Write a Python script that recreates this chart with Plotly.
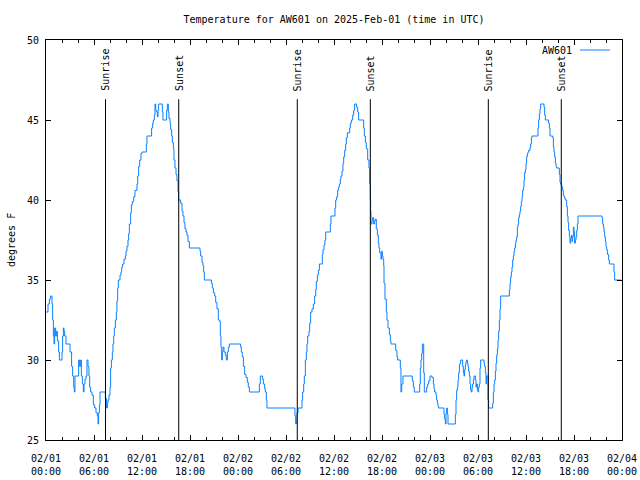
import plotly.graph_objects as go

# ---------------- data ----------------
series_name = "AW601"
title_text = "Temperature for AW601 on 2025-Feb-01 (time in UTC)"
y_title = "degrees F"

# hours since 02/01 00:00 UTC
hours = [
    0.0, 0.25, 0.42, 0.58, 0.75, 0.83, 0.92, 1.0, 1.08, 1.2, 1.33, 1.42, 1.58, 1.67, 2.0, 2.08,
    2.17, 2.25, 2.33, 2.5, 3.0, 3.2, 3.33, 3.46, 3.54, 3.62, 4.08, 4.2, 4.33, 4.42, 4.54, 4.67,
    4.75, 4.87, 5.0, 5.12, 5.25, 5.37, 5.46, 5.58, 5.75, 5.92, 6.08, 6.25, 6.42, 6.5, 6.58, 6.67,
    6.75, 7.42, 7.58, 7.67, 7.75, 7.87, 8.0, 8.08, 8.17, 8.29, 8.37, 8.46, 8.54, 8.67, 8.79, 8.87,
    8.96, 9.04, 9.25, 9.37, 9.46, 9.58, 9.75, 9.92, 10.0, 10.12, 10.25, 10.33, 10.42, 10.58, 10.67,
    10.79, 10.96, 11.12, 11.37, 11.46, 11.58, 11.71, 11.87, 12.0, 12.54, 12.62, 13.2, 13.33, 13.42,
    13.54, 13.62, 13.71, 13.83, 13.92, 14.0, 14.08, 14.54, 14.62, 15.08, 15.17, 15.29, 15.37, 15.5,
    15.58, 15.71, 15.79, 15.92, 16.0, 16.12, 16.25, 16.37, 16.5, 16.58, 16.83, 17.0, 17.12, 17.25,
    17.37, 17.5, 17.62, 17.75, 17.92, 19.25, 19.33, 19.5, 19.62, 19.71, 19.79, 20.67, 20.79, 20.92,
    21.08, 21.21, 21.37, 21.54, 21.71, 21.79, 21.87, 21.96, 22.04, 22.12, 22.25, 22.42, 22.54, 22.67,
    22.79, 22.92, 24.33, 24.42, 24.54, 24.67, 24.83, 25.0, 25.17, 25.29, 25.42, 26.67, 26.79, 27.08,
    27.17, 27.33, 27.42, 27.54, 27.62, 31.12, 31.21, 31.29, 31.37, 31.5, 32.0, 32.08, 32.21, 32.29,
    32.42, 32.54, 32.62, 32.71, 32.87, 32.96, 33.08, 33.25, 33.42, 33.58, 33.71, 33.79, 33.92, 34.04,
    34.17, 34.54, 34.62, 34.75, 34.87, 34.96, 35.54, 35.62, 36.12, 36.21, 36.33, 36.46, 36.54, 36.67,
    36.79, 36.87, 37.0, 37.12, 37.21, 37.33, 37.46, 37.54, 37.67, 37.96, 38.04, 38.17, 38.33, 38.46,
    38.58, 38.83, 38.96, 39.08, 39.71, 39.79, 39.92, 40.04, 40.21, 40.37, 40.46, 40.54, 40.58, 40.62,
    40.75, 40.83, 40.96, 41.08, 41.17, 41.29, 41.42, 41.54, 41.62, 41.71, 41.87, 41.96, 42.04, 42.12,
    42.21, 42.25, 42.37, 42.54, 42.62, 42.75, 42.92, 43.04, 43.12, 43.71, 43.87, 43.96, 44.29, 44.37,
    44.46, 44.62, 45.79, 45.92, 46.04, 46.71, 46.79, 46.87, 46.96, 47.04, 47.21, 47.29, 47.58, 47.71,
    47.83, 48.0, 48.25, 48.42, 48.5, 48.58, 48.75, 48.83, 48.92, 49.0, 49.08, 49.75, 49.83, 49.92,
    50.0, 50.08, 50.17, 50.25, 51.17, 51.25, 51.33, 51.42, 51.5, 51.58, 51.67, 51.75, 51.83, 52.08,
    52.17, 52.25, 52.33, 52.42, 52.5, 52.58, 52.67, 52.75, 52.83, 52.92, 53.0, 53.08, 53.17, 53.25,
    53.33, 53.42, 53.5, 53.67, 53.75, 53.83, 53.92, 54.0, 54.08, 54.17, 54.25, 54.33, 54.75, 54.83,
    54.92, 55.0, 55.08, 55.25, 55.33, 55.83, 55.92, 56.0, 56.08, 56.17, 56.25, 56.33, 56.42, 56.5,
    56.58, 56.67, 56.75, 56.83, 57.92, 58.0, 58.08, 58.17, 58.25, 58.33, 58.42, 58.5, 58.58, 58.67,
    58.75, 58.83, 58.92, 59.0, 59.08, 59.17, 59.25, 59.33, 59.42, 59.5, 59.58, 59.67, 59.75, 59.83,
    59.92, 60.0, 60.08, 60.17, 60.25, 60.33, 60.5, 60.58, 60.67, 60.75, 61.5, 61.58, 61.67, 61.75,
    61.83, 62.25, 62.33, 62.42, 62.83, 62.92, 63.0, 63.33, 63.42, 63.5, 63.58, 63.67, 63.75, 63.83,
    64.17, 64.25, 64.33, 64.42, 64.5, 64.58, 64.67, 64.75, 64.83, 64.92, 65.08, 65.17, 65.25, 65.33,
    65.42, 65.5, 65.58, 65.67, 65.75, 65.83, 65.92, 66.0, 66.08, 66.17, 66.25, 66.33, 66.42, 66.5,
    69.5, 69.58, 69.67, 69.75, 69.83, 69.92, 70.0, 70.08, 70.17, 70.33, 70.42, 71.0, 71.08, 71.9,
]

temps = [
    33.0, 33.5, 33.8, 34.0, 33.5, 32.5, 31.5, 31.0, 32.0, 31.5, 31.8, 31.2, 30.5, 30.0, 30.5, 31.5,
    32.0, 31.8, 31.5, 31.0, 30.5, 29.6, 29.0, 28.3, 28.0, 29.0, 30.0, 29.6, 30.0, 29.0, 28.5, 28.0,
    28.5, 28.8, 29.0, 30.0, 29.6, 29.0, 28.3, 28.0, 27.8, 27.2, 27.0, 26.7, 26.5, 26.0, 26.7, 27.2,
    28.0, 27.6, 27.0, 27.3, 27.5, 27.8, 28.3, 29.5, 30.0, 30.5, 31.0, 31.5, 32.0, 32.5, 33.0, 33.7,
    34.5, 35.0, 35.3, 35.5, 35.8, 36.0, 36.3, 36.5, 36.8, 37.1, 37.5, 37.9, 38.5, 39.2, 39.7,
    39.9, 40.2, 40.6, 41.0, 41.5, 42.1, 42.5, 42.9, 43.0, 43.5, 44.0, 44.5, 44.8, 45.0,
    45.3, 46.0, 45.6, 45.5, 45.2, 45.6, 46.0, 45.5, 45.0, 45.6, 46.0, 45.5, 45.1, 44.8,
    44.4, 44.0, 43.6, 43.2, 42.5, 42.0, 41.6, 41.2, 40.5, 40.0, 39.8, 39.3, 39.0, 38.6,
    38.2, 38.0, 37.8, 37.4, 37.0, 36.8, 36.5, 36.1, 35.9, 35.5, 35.0, 34.8, 34.5, 34.2,
    34.0, 33.6, 33.2, 32.5, 32.4, 31.5, 30.8, 30.0, 30.5, 30.8, 30.5, 30.3, 30.0, 30.5,
    30.8, 31.0, 30.8, 30.5, 30.2, 29.6, 29.1, 28.9, 28.6, 28.3, 28.0, 28.5, 29.0, 28.8,
    28.5, 28.2, 28.0, 27.5, 27.0, 26.5, 26.0, 26.3, 26.7, 27.0, 27.5, 28.0, 28.5, 29.0,
    30.0, 30.5, 31.0, 31.5, 31.8, 32.3, 33.0, 33.2, 33.5, 34.0, 34.4, 34.9, 35.3, 35.6,
    36.0, 36.6, 36.9, 37.2, 37.5, 38.0, 38.5, 39.0, 39.5, 40.0, 40.2, 40.6, 40.8, 41.0,
    41.3, 41.5, 41.8, 42.3, 42.7, 43.1, 43.5, 43.9, 44.2, 44.5, 44.8, 45.0, 45.3, 45.6,
    46.0, 45.8, 45.5, 45.0, 44.5, 44.0, 43.6, 43.2, 42.5, 42.0, 41.0, 40.0, 39.3, 38.5,
    38.7, 38.9, 38.5, 38.7, 38.8, 38.2, 37.8, 37.3, 37.0, 36.7, 36.3, 36.8, 36.5, 36.3,
    35.9, 34.8, 33.8, 33.0, 32.5, 32.0, 31.6, 31.2, 31.0, 30.6, 30.2, 30.0, 29.5, 28.0,
    28.5, 29.0, 28.7, 28.3, 28.0, 28.5, 29.5, 30.0, 30.4, 31.0, 29.2, 28.0, 28.3, 28.5,
    28.7, 29.0, 28.9, 28.5, 28.2, 28.0, 27.8, 27.5, 27.3, 27.1, 27.0, 26.6, 26.3, 26.0,
    26.7, 27.0, 26.6, 26.0, 26.6, 27.5, 28.1, 28.3, 28.75, 29.2, 29.7, 29.8, 30.0, 29.6,
    29.2, 29.0, 29.4, 29.7, 29.9, 30.0, 29.8, 29.6, 29.3, 29.0, 28.5, 28.1, 28.0, 28.3,
    28.5, 28.75, 29.0, 28.75, 28.3, 28.5, 28.1, 28.0, 28.3, 28.5, 29.5, 30.0, 29.8, 29.6,
    29.2, 28.5, 29.0, 27.5, 27.0, 27.3, 28.0, 28.5, 28.75, 29.3, 29.8, 30.3, 30.7, 31.25,
    31.8, 32.5, 33.2, 34.0, 34.4, 34.8, 35.2, 35.5, 35.8, 36.25, 36.5, 36.8, 37.0, 37.3,
    37.5, 37.7, 38.3, 38.5, 38.9, 39.1, 39.3, 39.6, 39.9, 40.2, 40.6, 40.8, 41.25, 41.7,
    41.9, 42.3, 42.7, 42.9, 43.0, 43.1, 43.3, 43.5, 43.9, 44.0, 44.5, 45.0, 45.4, 45.7,
    46.0, 45.8, 45.3, 45.0, 44.8, 44.5, 44.0, 43.9, 43.3, 43.0, 42.7, 42.3, 42.1, 42.0,
    41.6, 41.1, 41.0, 40.9, 40.8, 40.6, 40.3, 40.2, 40.1, 40.0, 39.6, 39.0, 38.6, 38.1,
    37.7, 37.3, 37.6, 37.8, 37.4, 37.7, 38.3, 38.0, 37.3, 37.5, 37.7, 38.1, 38.5, 39.0,
    38.9, 38.5, 38.3, 38.0, 37.7, 37.4, 37.1, 36.9, 36.6, 36.25, 36.0, 35.5, 35.0, 35.0,
]

sunrise_hours = [7.44, 31.41, 55.29]
sunset_hours = [16.59, 40.54, 64.41]
event_top = 46.3  # top of the vertical marker lines (deg F)

tick_hours = [0, 6, 12, 18, 24, 30, 36, 42, 48, 54, 60, 66, 72]
tick_labels = [
    "02/01<br>00:00", "02/01<br>06:00", "02/01<br>12:00", "02/01<br>18:00",
    "02/02<br>00:00", "02/02<br>06:00", "02/02<br>12:00", "02/02<br>18:00",
    "02/03<br>00:00", "02/03<br>06:00", "02/03<br>12:00", "02/03<br>18:00",
    "02/04<br>00:00",
]
y_ticks = [25, 30, 35, 40, 45, 50]

# ---------------- figure ----------------
FONT = "DejaVu Sans Mono"
LINE_COLOR = "#0a80ff"
PLOT_L, PLOT_R, PLOT_T, PLOT_B = 46, 622, 40, 440
PW = PLOT_R - PLOT_L
PH = PLOT_B - PLOT_T

fig = go.Figure()
fig.add_trace(go.Scatter(
    x=hours, y=temps, mode="lines", name=series_name,
    line=dict(color=LINE_COLOR, width=1, shape="hv"),
    showlegend=False, hoverinfo="skip",
))

shapes = []
annotations = []
for label, hrs in (("Sunrise", sunrise_hours), ("Sunset", sunset_hours)):
    for h in hrs:
        shapes.append(dict(type="line", xref="x", yref="y", x0=h, x1=h,
                           y0=y_ticks[0], y1=event_top,
                           line=dict(color="black", width=1)))
        annotations.append(dict(x=h, y=event_top, xref="x", yref="y",
                                text=label, textangle=-90, showarrow=False,
                                xanchor="center", yanchor="bottom", yshift=6,
                                font=dict(family=FONT, size=10, color="black")))

# legend (text left, sample line right, as in gnuplot)
legend_y = 1 - (50 - PLOT_T) / PH
annotations.append(dict(x=(574 - PLOT_L) / PW, y=legend_y, xref="paper", yref="paper",
                        text=series_name, showarrow=False, xanchor="right",
                        yanchor="middle", font=dict(family=FONT, size=10, color="black")))
shapes.append(dict(type="line", xref="paper", yref="paper",
                   x0=(580 - PLOT_L) / PW, x1=(610 - PLOT_L) / PW, y0=legend_y, y1=legend_y,
                   line=dict(color=LINE_COLOR, width=1)))

# y-axis title
annotations.append(dict(x=-(PLOT_L - 11) / PW, y=0.5, xref="paper", yref="paper",
                        text=y_title, textangle=-90, showarrow=False,
                        xanchor="center", yanchor="middle",
                        font=dict(family=FONT, size=10, color="black")))

fig.update_layout(
    width=640, height=480,
    margin=dict(l=PLOT_L, r=640 - PLOT_R, t=PLOT_T, b=480 - PLOT_B, autoexpand=False),
    paper_bgcolor="white", plot_bgcolor="white",
    font=dict(family=FONT, size=10, color="black"),
    title=dict(text=title_text, x=(PLOT_L + PW / 2) / 640, xanchor="center",
               y=1 - 19 / 480, yanchor="middle",
               font=dict(family=FONT, size=10, color="black")),
    shapes=shapes, annotations=annotations,
    hovermode=False,
)

fig.update_xaxes(
    range=[0, 72], tickmode="array", tickvals=tick_hours, ticktext=tick_labels,
    ticks="inside", ticklen=5, tickcolor="black", showgrid=False, zeroline=False,
    showline=True, linecolor="black", linewidth=1, mirror="ticks", automargin=False,
    ticklabelstandoff=9,
    tickfont=dict(family=FONT, size=10, color="black"),
    minor=dict(dtick=2, tick0=0, ticks="inside", ticklen=3, tickcolor="black", showgrid=False),
)
fig.update_yaxes(
    range=[25, 50], tickmode="array", tickvals=y_ticks,
    ticks="inside", ticklen=5, tickcolor="black", showgrid=False, zeroline=False,
    showline=True, linecolor="black", linewidth=1, mirror="ticks", automargin=False,
    ticklabelstandoff=4,
    tickfont=dict(family=FONT, size=10, color="black"),
)

# remove the browser's default 8px body margin so the figure fills the 640x480 window exactly
fig.write_html("out.html", config={"displayModeBar": False, "staticPlot": True},
               post_script="document.body.style.margin='0px';")
